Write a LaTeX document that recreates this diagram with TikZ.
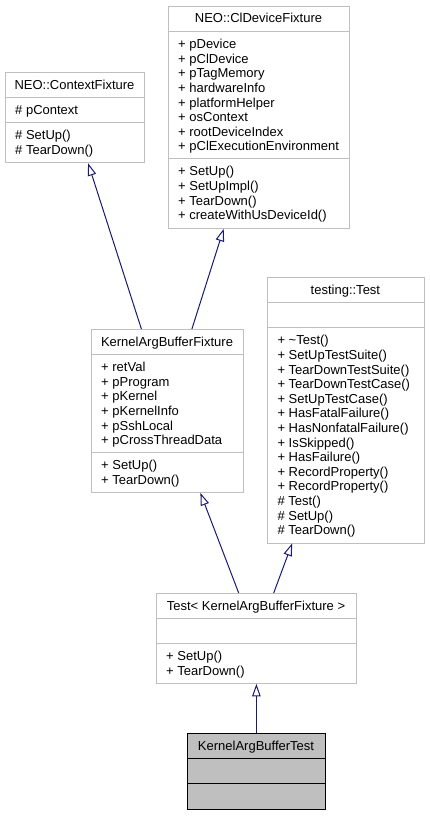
\documentclass[tikz,border=0pt]{standalone}
\usepackage{fontspec}
\setmainfont{Liberation Sans}
\usepackage{tikz}
\usetikzlibrary{arrows.meta}
\definecolor{edgenavy}{RGB}{25, 25, 112}
\definecolor{boxgray} {RGB}{191,191,191}
\tikzset{
  classbox/.style={
    draw=boxgray, fill=white, line width=0.8pt,
    inner sep=0pt, anchor=north west
  },
  focusbox/.style={
    classbox, draw=black, fill=boxgray
  },
  classname/.style={
    anchor=base, inner sep=0pt,
    font=\fontsize{13}{14.6}\selectfont
  },
  memberlist/.style={
    anchor=north west, align=left, inner sep=0pt,
    font=\fontsize{13}{14.6}\selectfont
  },
  divider/.style={
    draw=boxgray, line width=0.8pt
  },
  inherit/.style={
    -{Triangle[open, length=12.5pt, width=8.5pt]},
    draw=edgenavy, line width=1pt
  },
}

\begin{document}
\begin{tikzpicture}[x=1pt, y=-1pt]
  \useasboundingbox (0,0) rectangle (429,816);

  % Boxes
  \node[classbox, minimum width=139pt, minimum height=90.1pt]  (ctx)   at (5,72.3)    {};
  \node[classbox, minimum width=181pt, minimum height=222pt]   (cldev) at (168,6)     {};
  \node[classbox, minimum width=156.2pt, minimum height=265.3pt] (gtest) at (267.3,277.3) {};
  \node[classbox, minimum width=152pt, minimum height=163.1pt] (kabf)  at (91,329)    {};
  \node[classbox, minimum width=200pt, minimum height=90.1pt]  (tkabf) at (156,593)   {};
  \node[focusbox, minimum width=138pt, minimum height=75.5pt]  (kabt)  at (187,733)   {};

  % Compartment lines
  \draw[divider] (5,97.8) -- (144,97.8);
  \draw[divider] (5,122.8) -- (144,122.8);
  \draw[divider] (168,31.5) -- (349,31.5);
  \draw[divider] (168,158.7) -- (349,158.7);
  \draw[divider] (267.3,302.8) -- (423.5,302.8);
  \draw[divider] (267.3,327.8) -- (423.5,327.8);
  \draw[divider] (91,354.5) -- (243,354.5);
  \draw[divider] (91,452.5) -- (243,452.5);
  \draw[divider] (156,618.5) -- (356,618.5);
  \draw[divider] (156,643.5) -- (356,643.5);
  \draw[divider, draw=black] (187,758.5) -- (325,758.5);
  \draw[divider, draw=black] (187,783.5) -- (325,783.5);

  % Class names
  \node[classname] (ctx-name)   at (74.5,89.3)   {NEO::ContextFixture};
  \node[classname] (cldev-name) at (258.5,23)    {NEO::ClDeviceFixture};
  \node[classname] (gtest-name) at (345.4,294.3) {testing::Test};
  \node[classname] (kabf-name)  at (167,346)     {KernelArgBufferFixture};
  \node[classname] (tkabf-name) at (256,610)     {Test< KernelArgBufferFixture >};
  \node[classname] (kabt-name)  at (256,750)     {KernelArgBufferTest};

  % Attributes and operations
  \node[memberlist] (ctx-attr) at (15,105.3) {\# pContext};
  \node[memberlist] (ctx-ops)  at (15,130.3) {\# SetUp()\\\# TearDown()};
  \node[memberlist] (cldev-attr) at (178,39) {+ pDevice\\+ pClDevice\\+ pTagMemory\\+ hardwareInfo\\
    + platformHelper\\+ osContext\\+ rootDeviceIndex\\+ pClExecutionEnvironment};
  \node[memberlist] (cldev-ops) at (178,166.2) {+ SetUp()\\+ SetUpImpl()\\+ TearDown()\\
    + createWithUsDeviceId()};
  \node[memberlist] (gtest-ops) at (277.3,335.3) {+ \textasciitilde Test()\\+ SetUpTestSuite()\\
    + TearDownTestSuite()\\+ TearDownTestCase()\\+ SetUpTestCase()\\+ HasFatalFailure()\\
    + HasNonfatalFailure()\\+ IsSkipped()\\+ HasFailure()\\+ RecordProperty()\\
    + RecordProperty()\\\# Test()\\\# SetUp()\\\# TearDown()};
  \node[memberlist] (kabf-attr) at (101,362) {+ retVal\\+ pProgram\\+ pKernel\\+ pKernelInfo\\
    + pSshLocal\\+ pCrossThreadData};
  \node[memberlist] (kabf-ops)  at (101,460) {+ SetUp()\\+ TearDown()};
  \node[memberlist] (tkabf-ops) at (166,651) {+ SetUp()\\+ TearDown()};

  % Inheritance
  \draw[inherit] ([xshift=-26pt]kabf.north) -- ([xshift=13.2pt]ctx.south);
  \draw[inherit] ([xshift=24.5pt]kabf.north) -- ([xshift=-35.2pt]cldev.south);
  \draw[inherit] ([xshift=-17.7pt]tkabf.north) -- ([xshift=33pt]kabf.south);
  \draw[inherit] ([xshift=17.3pt]tkabf.north) -- ([xshift=-53.7pt]gtest.south);
  \draw[inherit] (kabt.north) -- (tkabf.south);
\end{tikzpicture}
\end{document}
